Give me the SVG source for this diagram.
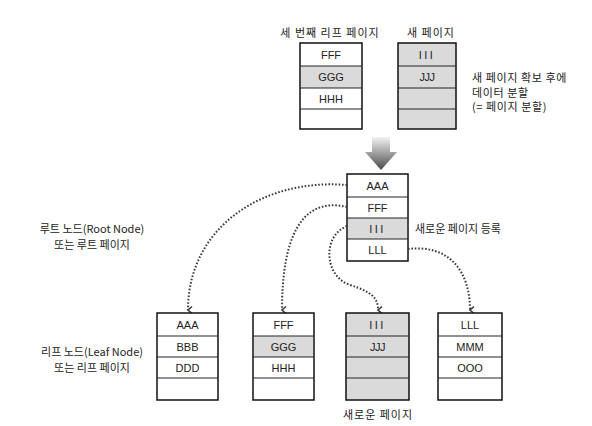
<svg xmlns="http://www.w3.org/2000/svg" width="592" height="426" viewBox="0 0 592 426">
<defs>
<style>
.box{fill:#fff;stroke:#111;stroke-width:1.5}
.gbox{fill:#dadada;stroke:#111;stroke-width:1.5}
.g{fill:#dadada}
.sep{stroke:#222;stroke-width:1}
.t{font-family:"Liberation Sans",Arial,sans-serif;font-size:11px;fill:#222;text-anchor:middle}
.k{font-family:"Noto Sans CJK KR","Liberation Sans",sans-serif;font-size:11px;fill:#222}
.kc{text-anchor:middle}
.conn{fill:none;stroke:#3a3a3a;stroke-width:2;stroke-dasharray:1.6 1.8}
</style>
<marker id="ah" viewBox="0 0 10 10" refX="5" refY="8" markerWidth="10" markerHeight="10" markerUnits="userSpaceOnUse" orient="auto-start-reverse">
<path d="M1.5,4 L5,8 L8.5,4" fill="none" stroke="#3a3a3a" stroke-width="1.6"/>
</marker>
<linearGradient id="ag" gradientUnits="userSpaceOnUse" x1="0" y1="137" x2="0" y2="170">
<stop offset="0" stop-color="#f2f2f2"/>
<stop offset="1" stop-color="#4a4a4a"/>
</linearGradient>
</defs>
<rect width="592" height="426" fill="#fff"/>

<g id="label-third-leaf">
<text class="k kc" x="330" y="37" font-size="12" letter-spacing="1" fill="#222">세 번째 리프 페이지</text>
</g>
<g id="third-leaf-page">
<rect class="box" x="300" y="43" width="62" height="86"/>
<rect class="g" x="301" y="66" width="60" height="22"/>
<line class="sep" x1="300" y1="66" x2="362" y2="66"/>
<line class="sep" x1="300" y1="88" x2="362" y2="88"/>
<line class="sep" x1="300" y1="109" x2="362" y2="109"/>
<text class="t" x="331" y="58.5">FFF</text>
<text class="t" x="331" y="81">GGG</text>
<text class="t" x="331" y="102.5">HHH</text>
</g>

<g id="label-new-page">
<text class="k kc" x="431" y="37" font-size="12" letter-spacing="1" fill="#222">새 페이지</text>
</g>
<g id="new-page">
<rect class="gbox" x="398" y="43" width="58" height="86"/>
<line class="sep" x1="398" y1="66" x2="456" y2="66"/>
<line class="sep" x1="398" y1="88" x2="456" y2="88"/>
<line class="sep" x1="398" y1="109" x2="456" y2="109"/>
<text class="t" x="427" y="58.5" letter-spacing="2.5">III</text>
<text class="t" x="427" y="81" letter-spacing="-0.5">JJJ</text>
</g>

<g id="label-split">
<text class="k" x="472" y="82" font-size="10.5" letter-spacing="0.6">새 페이지 확보 후에</text>
<text class="k" x="472" y="96.5" font-size="10.5" letter-spacing="0.6">데이터 분할</text>
<text class="k" x="472" y="111" font-size="10.5" letter-spacing="0.6">(= 페이지 분할)</text>
</g>

<g id="split-arrow">
<rect x="372" y="137" width="18" height="16" fill="url(#ag)"/>
<polygon points="365,152 397,152 381,170" fill="url(#ag)"/>
</g>

<g id="root-node">
<rect class="box" x="347" y="174" width="61" height="87"/>
<rect class="g" x="348" y="218" width="59" height="21"/>
<line class="sep" x1="347" y1="197" x2="408" y2="197"/>
<line class="sep" x1="347" y1="218" x2="408" y2="218"/>
<line class="sep" x1="347" y1="239" x2="408" y2="239"/>
<text class="t" x="377.5" y="189.5">AAA</text>
<text class="t" x="377.5" y="211.5">FFF</text>
<text class="t" x="377.5" y="232.5" letter-spacing="2.5">III</text>
<text class="t" x="377.5" y="254">LLL</text>
</g>
<g id="label-register">
<text class="k" x="415" y="233">새로운 페이지 등록</text>
</g>
<g id="label-root">
<text class="k kc" x="92" y="233">루트 노드(Root Node)</text>
<text class="k kc" x="92" y="249">또는 루트 페이지</text>
</g>

<g id="connectors">
<path class="conn" d="M347,185 C262,178 188,228 188,310" marker-end="url(#ah)"/>
<path class="conn" d="M347,207 C300,196 282,240 282,310" marker-end="url(#ah)"/>
<path class="conn" d="M347,226 C322,236 324,276 350,285 C372,292 378,298 378,310" marker-end="url(#ah)"/>
<path class="conn" d="M408,249 C450,244 470,272 470,310" marker-end="url(#ah)"/>
</g>

<g id="label-leaf">
<text class="k kc" x="92" y="356">리프 노드(Leaf Node)</text>
<text class="k kc" x="92" y="372">또는 리프 페이지</text>
</g>

<g id="leaf-1">
<rect class="box" x="157" y="313" width="61" height="87"/>
<line class="sep" x1="157" y1="336" x2="218" y2="336"/>
<line class="sep" x1="157" y1="357" x2="218" y2="357"/>
<line class="sep" x1="157" y1="378" x2="218" y2="378"/>
<text class="t" x="187.5" y="328.5">AAA</text>
<text class="t" x="187.5" y="350.5">BBB</text>
<text class="t" x="187.5" y="371.5">DDD</text>
</g>
<g id="leaf-2">
<rect class="box" x="253" y="313" width="61" height="87"/>
<rect class="g" x="254" y="336" width="59" height="21"/>
<line class="sep" x1="253" y1="336" x2="314" y2="336"/>
<line class="sep" x1="253" y1="357" x2="314" y2="357"/>
<line class="sep" x1="253" y1="378" x2="314" y2="378"/>
<text class="t" x="283.5" y="328.5">FFF</text>
<text class="t" x="283.5" y="350.5">GGG</text>
<text class="t" x="283.5" y="371.5">HHH</text>
</g>
<g id="leaf-3">
<rect class="gbox" x="346" y="313" width="63" height="87"/>
<line class="sep" x1="346" y1="336" x2="409" y2="336"/>
<line class="sep" x1="346" y1="357" x2="409" y2="357"/>
<line class="sep" x1="346" y1="378" x2="409" y2="378"/>
<text class="t" x="377.5" y="328.5" letter-spacing="2.5">III</text>
<text class="t" x="377.5" y="350.5" letter-spacing="-0.5">JJJ</text>
</g>
<g id="leaf-4">
<rect class="box" x="438" y="313" width="64" height="87"/>
<line class="sep" x1="438" y1="336" x2="502" y2="336"/>
<line class="sep" x1="438" y1="357" x2="502" y2="357"/>
<line class="sep" x1="438" y1="378" x2="502" y2="378"/>
<text class="t" x="470" y="328.5">LLL</text>
<text class="t" x="470" y="350.5">MMM</text>
<text class="t" x="470" y="371.5">OOO</text>
</g>
<g id="label-new-leaf">
<text class="k kc" x="378" y="419" font-size="12" letter-spacing="1">새로운 페이지</text>
</g>
</svg>
